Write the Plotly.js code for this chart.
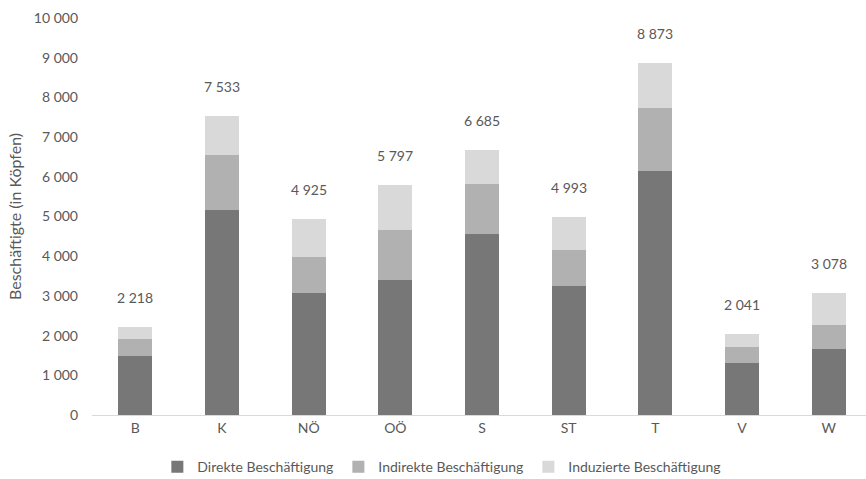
<!DOCTYPE html>
<html>
<head>
<meta charset="utf-8">
<script src="https://cdn.plot.ly/plotly-3.0.1.min.js"></script>
<style>
  html, body { margin: 0; padding: 0; background: #fff; }
  #chart { width: 866px; height: 479px; }
</style>
</head>
<body>
<div id="chart"></div>
<script>
// Bundesländer
const regions = ['B', 'K', 'NÖ', 'OÖ', 'S', 'ST', 'T', 'V', 'W'];

// Beschäftigte (in Köpfen) nach Effektart
const direkt     = [1495, 5170, 3070, 3400, 4570, 3240, 6135, 1310, 1665];
const indirekt   = [ 413, 1390,  910, 1265, 1240,  920, 1605,  405,  605];
const induziert  = [ 310,  973,  945, 1132,  875,  833, 1133,  326,  808];

// Gesamtwerte über den Säulen
const gesamt = [2218, 7533, 4925, 5797, 6685, 4993, 8873, 2041, 3078];

const yTicks = [0, 1000, 2000, 3000, 4000, 5000, 6000, 7000, 8000, 9000, 10000];

const seriesNames = ['Direkte Beschäftigung', 'Indirekte Beschäftigung', 'Induzierte Beschäftigung'];
const seriesColors = ['#777777', '#b1b1b1', '#d9d9d9'];
const seriesValues = [direkt, indirekt, induziert];

const FONT = 'Lato, "Open Sans", "DejaVu Sans", sans-serif';
const TEXT_COLOR = '#595959';

function groupThousands(v) {
  return String(v).replace(/\B(?=(\d{3})+(?!\d))/g, ' ');
}

const traces = seriesValues.map((vals, i) => ({
  type: 'bar',
  name: seriesNames[i],
  x: regions,
  y: vals,
  marker: { color: seriesColors[i], line: { width: 0 } },
  hoverinfo: 'skip'
}));

const annotations = regions.map((r, i) => ({
  x: r,
  y: gesamt[i],
  xref: 'x',
  yref: 'y',
  text: groupThousands(gesamt[i]),
  showarrow: false,
  yanchor: 'bottom',
  yshift: 19,
  font: { family: FONT, size: 14, color: TEXT_COLOR }
}));

const layout = {
  width: 866,
  height: 479,
  margin: { l: 92, r: 0, t: 18, b: 64, autoexpand: false },
  paper_bgcolor: '#ffffff',
  plot_bgcolor: '#ffffff',
  barmode: 'stack',
  bargap: 0.61,
  separators: ', ',
  font: { family: FONT, size: 14, color: TEXT_COLOR },
  showlegend: true,
  legend: {
    orientation: 'h',
    x: 0.452,
    xanchor: 'center',
    xref: 'paper',
    yref: 'container',
    y: 0.025,
    yanchor: 'middle',
    font: { family: FONT, size: 14, color: TEXT_COLOR },
    itemwidth: 30,
    traceorder: 'normal'
  },
  xaxis: {
    type: 'category',
    range: [-0.5, 8.43],
    showgrid: false,
    showline: true,
    linecolor: '#d9d9d9',
    linewidth: 1,
    ticks: '',
    zeroline: false,
    tickfont: { family: FONT, size: 14, color: TEXT_COLOR }
  },
  yaxis: {
    range: [0, 10000],
    tickvals: yTicks,
    ticktext: yTicks.map(groupThousands),
    showgrid: false,
    zeroline: false,
    showline: false,
    ticks: '',
    ticklabelstandoff: 13,
    tickfont: { family: FONT, size: 14, color: TEXT_COLOR },
    title: {
      text: 'Beschäftigte (in Köpfen)',
      font: { family: FONT, size: 16, color: TEXT_COLOR },
      standoff: 8
    }
  },
  annotations: annotations
};

Plotly.newPlot('chart', traces, layout, { staticPlot: true, displayModeBar: false });
</script>
</body>
</html>
